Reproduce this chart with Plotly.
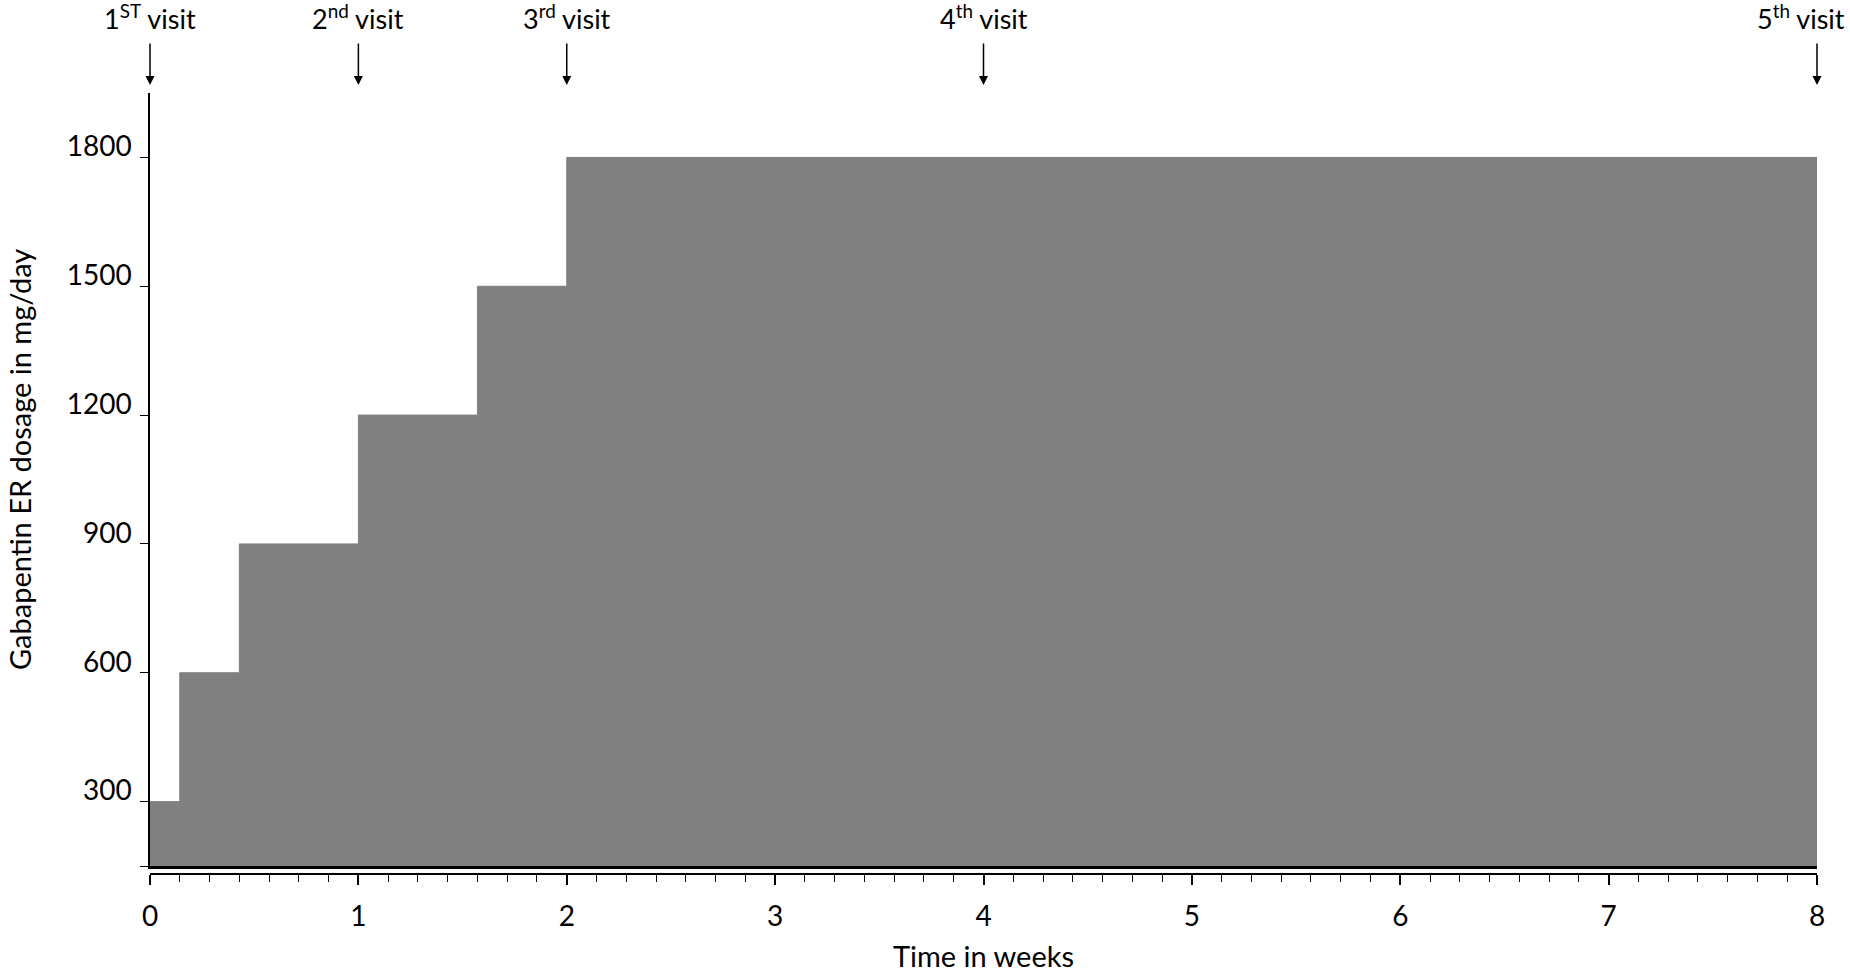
import plotly.graph_objects as go

# Titration schedule (day on which each dose starts) and dose in mg/day
step_start_days = [0, 1, 3, 7, 11, 14]
doses_mg = [300, 600, 900, 1200, 1500, 1800]
end_day = 56

# Visit annotations (week, label)
visit_weeks = [0, 1, 2, 4, 8]
visit_labels = ["1<sup>ST</sup> visit", "2<sup>nd</sup> visit", "3<sup>rd</sup> visit",
                "4<sup>th</sup> visit", "5<sup>th</sup> visit"]
visit_text_shift = [0, 0, 0, 0, -16]

x_ticks = [0, 1, 2, 3, 4, 5, 6, 7, 8]
y_ticks = [300, 600, 900, 1200, 1500, 1800]
y_range = [150, 1950]
x_range = [0, 8]

FONT = "Lato, Carlito, 'Open Sans', sans-serif"
GRAY = "#808080"

W, H = 1850, 980
m_l, m_r, m_t, m_b = 150, 33, 93, 106
plot_h = H - m_t - m_b
base_px = 866  # bottom of the filled area (pixels from top)
y_dom0 = ((H - m_b) - base_px) / plot_h


def paper_y(px):
    return ((H - m_b) - px) / plot_h


x_weeks = [d / 7 for d in step_start_days] + [end_day / 7]
y_vals = doses_mg + [doses_mg[-1]]

fig = go.Figure()
fig.add_trace(go.Scatter(
    x=x_weeks, y=y_vals, mode="lines", line=dict(shape="hv", color=GRAY, width=1),
    fill="tozeroy", fillcolor=GRAY, showlegend=False, hoverinfo="skip",
))
# invisible trace so the offset tick axis (x2) gets drawn
fig.add_trace(go.Scatter(
    x=visit_weeks, y=[y_range[0]] * len(visit_weeks), xaxis="x2", yaxis="y",
    mode="markers", marker=dict(opacity=0), showlegend=False, hoverinfo="skip",
))

for wk, lab, sh in zip(visit_weeks, visit_labels, visit_text_shift):
    # arrow
    fig.add_annotation(
        x=wk, xref="x", y=paper_y(85), yref="paper", text="", showarrow=True,
        arrowhead=2, arrowsize=1.2, arrowwidth=1.5, arrowcolor="black",
        ax=0, ay=-43,
    )
    # label
    fig.add_annotation(
        x=wk, xref="x", y=paper_y(17), yref="paper", text=lab, showarrow=False,
        xanchor="center", yanchor="middle", xshift=sh,
        font=dict(family=FONT, size=27, color="black"),
    )

# y-axis title
fig.add_annotation(
    x=0, xref="paper", xshift=-131, y=paper_y(460), yref="paper",
    text="Gabapentin ER dosage in mg/day", textangle=-90, showarrow=False,
    xanchor="center", yanchor="middle",
    font=dict(family=FONT, size=29, color="black"),
)

fig.update_layout(
    width=W, height=H,
    margin=dict(l=m_l, r=m_r, t=m_t, b=m_b, pad=0),
    plot_bgcolor="white", paper_bgcolor="white",
    font=dict(family=FONT, size=28, color="black"),
    xaxis=dict(
        range=x_range, domain=[0, 1], anchor="y", showline=True, linecolor="black",
        linewidth=3, ticks="", showticklabels=False, showgrid=False, zeroline=False,
    ),
    xaxis2=dict(
        range=x_range, overlaying="x", anchor="free", position=0, side="bottom",
        showline=True, linecolor="black", linewidth=1.5,
        tickmode="array", tickvals=x_ticks, ticks="outside", ticklen=10, tickwidth=1.5,
        tickcolor="black", showgrid=False, zeroline=False, ticklabelstandoff=8,
        minor=dict(ticks="outside", dtick=1 / 7, tick0=0, ticklen=7, tickwidth=1.3,
                   tickcolor="black", showgrid=False),
        tickfont=dict(family=FONT, size=28),
        title=dict(text="Time in weeks", font=dict(family=FONT, size=29), standoff=14),
    ),
    yaxis=dict(
        range=y_range, domain=[y_dom0, 1], showline=True, linecolor="black", linewidth=1.5,
        tickmode="array", tickvals=[y_range[0]] + y_ticks,
        ticktext=[""] + [str(v) for v in y_ticks],
        ticks="outside", ticklen=8, tickwidth=1.3, tickcolor="black",
        showgrid=False, zeroline=False, ticklabelshift=-11, ticklabelstandoff=3,
        tickfont=dict(family=FONT, size=28),
    ),
)

fig.write_html("out.html", config={"displayModeBar": False},
               post_script="document.body.style.margin='0';")
